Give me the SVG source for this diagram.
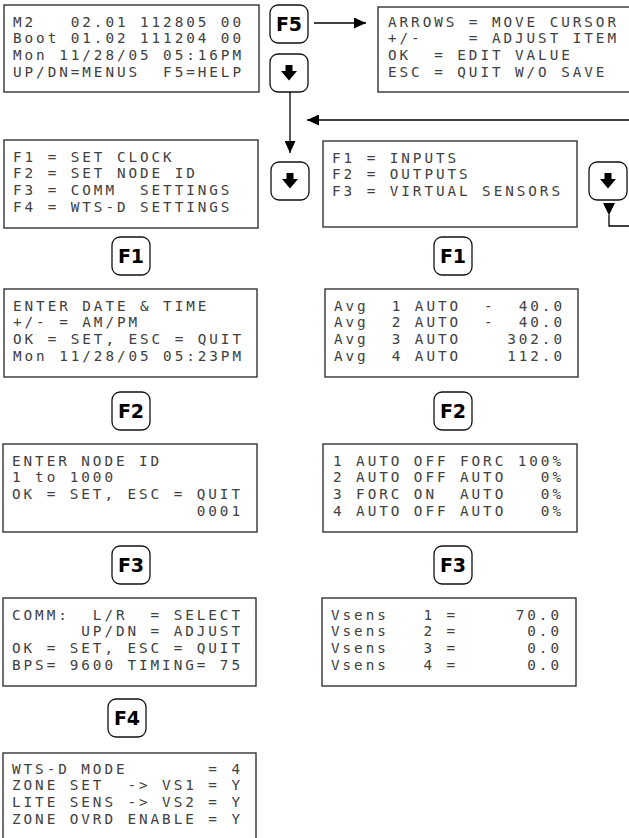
<svg xmlns="http://www.w3.org/2000/svg" xmlns:xlink="http://www.w3.org/1999/xlink" width="629" height="838" viewBox="0 0 629 838">
<style>
.scr{fill:#fff;stroke:#333;stroke-width:1.4}
.lcd{font-family:"DejaVu Sans Mono","Liberation Mono",monospace;font-size:14.3px;letter-spacing:2.94px;fill:#404040;white-space:pre}
.btn{fill:#fff;stroke:#111;stroke-width:1.3}
.key{font-family:"DejaVu Sans","Liberation Sans",sans-serif;font-weight:bold;font-size:19px;fill:#000;text-anchor:middle}
.con{fill:none;stroke:#000;stroke-width:1.3}
</style>
<defs>
<marker id="ah" markerUnits="userSpaceOnUse" markerWidth="12" markerHeight="11" refX="12" refY="5.5" orient="auto">
<path d="M0,0 L12,5.5 L0,11 z" fill="#000"/>
</marker>
<g id="dnicon"><path d="M-3.5,-8 h7 v6 h4.5 l-8,9.5 l-8,-9.5 h4.5 z" fill="#000"/></g>
</defs>
<rect width="629" height="838" fill="#fff"/>

<g id="connectors">
<line class="con" x1="314" y1="23" x2="366" y2="23" marker-end="url(#ah)"/>
<line class="con" x1="290" y1="92" x2="290" y2="153" marker-end="url(#ah)"/>
<line class="con" x1="629" y1="120" x2="307" y2="120" marker-end="url(#ah)"/>
<path class="con" d="M609,215 V226 H632" marker-start="url(#ah)"/>
<path d="M603,203 L615,203 L609,215 z" fill="#000"/>
</g>

<g id="screen-main">
<rect class="scr" x="4" y="5" width="255" height="87"/>
<text class="lcd" xml:space="preserve"><tspan x="13" y="26.5">M2   02.01 112805 00</tspan><tspan x="13" y="43.2">Boot 01.02 111204 00</tspan><tspan x="13" y="59.9">Mon 11/28/05 05:16PM</tspan><tspan x="13" y="76.6">UP/DN=MENUS  F5=HELP</tspan></text>
</g>

<g id="btn-f5">
<rect class="btn" x="270" y="5" width="38" height="38" rx="8"/>
<text class="key" x="289" y="31">F5</text>
</g>

<g id="screen-help">
<rect class="scr" x="378" y="7" width="270" height="85"/>
<text class="lcd" xml:space="preserve"><tspan x="388" y="26.5">ARROWS = MOVE CURSOR</tspan><tspan x="388" y="43.2">+/-    = ADJUST ITEM</tspan><tspan x="388" y="59.9">OK  = EDIT VALUE</tspan><tspan x="388" y="76.6">ESC = QUIT W/O SAVE</tspan></text>
</g>

<g id="btn-down-1">
<rect class="btn" x="270" y="54" width="38" height="38" rx="8"/>
<use xlink:href="#dnicon" x="289" y="73"/>
</g>

<g id="menu-setup">
<rect class="scr" x="4" y="140" width="254" height="88"/>
<text class="lcd" xml:space="preserve"><tspan x="13" y="161.5">F1 = SET CLOCK</tspan><tspan x="13" y="178.2">F2 = SET NODE ID</tspan><tspan x="13" y="194.9">F3 = COMM  SETTINGS</tspan><tspan x="13" y="211.6">F4 = WTS-D SETTINGS</tspan></text>
</g>

<g id="btn-down-2">
<rect class="btn" x="271" y="162" width="38" height="38" rx="8"/>
<use xlink:href="#dnicon" x="290" y="181"/>
</g>

<g id="menu-io">
<rect class="scr" x="323" y="141" width="254" height="86"/>
<text class="lcd" xml:space="preserve"><tspan x="332" y="162.5">F1 = INPUTS</tspan><tspan x="332" y="179.2">F2 = OUTPUTS</tspan><tspan x="332" y="195.9">F3 = VIRTUAL SENSORS</tspan></text>
</g>

<g id="btn-down-3">
<rect class="btn" x="589" y="162" width="38" height="38" rx="8"/>
<use xlink:href="#dnicon" x="608" y="181"/>
</g>

<g id="btn-f1-left">
<rect class="btn" x="112" y="237" width="38" height="38" rx="8"/>
<text class="key" x="131" y="263">F1</text>
</g>
<g id="btn-f1-right">
<rect class="btn" x="434" y="237" width="38" height="38" rx="8"/>
<text class="key" x="453" y="263">F1</text>
</g>

<g id="screen-clock">
<rect class="scr" x="4" y="289" width="253" height="88"/>
<text class="lcd" xml:space="preserve"><tspan x="13" y="310.5">ENTER DATE &amp; TIME</tspan><tspan x="13" y="327.2">+/- = AM/PM</tspan><tspan x="13" y="343.9">OK = SET, ESC = QUIT</tspan><tspan x="13" y="360.6">Mon 11/28/05 05:23PM</tspan></text>
</g>

<g id="screen-inputs">
<rect class="scr" x="325" y="289" width="253" height="88"/>
<text class="lcd" xml:space="preserve"><tspan x="334" y="310.5">Avg  1 AUTO  -  40.0</tspan><tspan x="334" y="327.2">Avg  2 AUTO  -  40.0</tspan><tspan x="334" y="343.9">Avg  3 AUTO    302.0</tspan><tspan x="334" y="360.6">Avg  4 AUTO    112.0</tspan></text>
</g>

<g id="btn-f2-left">
<rect class="btn" x="112" y="392" width="38" height="38" rx="8"/>
<text class="key" x="131" y="418">F2</text>
</g>
<g id="btn-f2-right">
<rect class="btn" x="434" y="392" width="38" height="38" rx="8"/>
<text class="key" x="453" y="418">F2</text>
</g>

<g id="screen-nodeid">
<rect class="scr" x="3" y="444" width="254" height="88"/>
<text class="lcd" xml:space="preserve"><tspan x="12" y="465.5">ENTER NODE ID</tspan><tspan x="12" y="482.2">1 to 1000</tspan><tspan x="12" y="498.9">OK = SET, ESC = QUIT</tspan><tspan x="12" y="515.6">                0001</tspan></text>
</g>

<g id="screen-outputs">
<rect class="scr" x="323" y="444" width="254" height="88"/>
<text class="lcd" xml:space="preserve"><tspan x="333" y="465.5">1 AUTO OFF FORC 100%</tspan><tspan x="333" y="482.2">2 AUTO OFF AUTO   0%</tspan><tspan x="333" y="498.9">3 FORC ON  AUTO   0%</tspan><tspan x="333" y="515.6">4 AUTO OFF AUTO   0%</tspan></text>
</g>

<g id="btn-f3-left">
<rect class="btn" x="112" y="546" width="38" height="38" rx="8"/>
<text class="key" x="131" y="572">F3</text>
</g>
<g id="btn-f3-right">
<rect class="btn" x="434" y="546" width="38" height="38" rx="8"/>
<text class="key" x="453" y="572">F3</text>
</g>

<g id="screen-comm">
<rect class="scr" x="3" y="598" width="253" height="88"/>
<text class="lcd" xml:space="preserve"><tspan x="12" y="619.5">COMM:  L/R  = SELECT</tspan><tspan x="12" y="636.2">      UP/DN = ADJUST</tspan><tspan x="12" y="652.9">OK = SET, ESC = QUIT</tspan><tspan x="12" y="669.6">BPS= 9600 TIMING= 75</tspan></text>
</g>

<g id="screen-vsens">
<rect class="scr" x="322" y="598" width="254" height="88"/>
<text class="lcd" xml:space="preserve"><tspan x="331" y="619.5">Vsens   1 =     70.0</tspan><tspan x="331" y="636.2">Vsens   2 =      0.0</tspan><tspan x="331" y="652.9">Vsens   3 =      0.0</tspan><tspan x="331" y="669.6">Vsens   4 =      0.0</tspan></text>
</g>

<g id="btn-f4-left">
<rect class="btn" x="108" y="699" width="38" height="38" rx="8"/>
<text class="key" x="127" y="725">F4</text>
</g>

<g id="screen-wtsd">
<rect class="scr" x="3" y="753" width="253" height="100"/>
<text class="lcd" xml:space="preserve"><tspan x="12" y="773.5">WTS-D MODE       = 4</tspan><tspan x="12" y="790.2">ZONE SET  -&gt; VS1 = Y</tspan><tspan x="12" y="806.9">LITE SENS -&gt; VS2 = Y</tspan><tspan x="12" y="823.6">ZONE OVRD ENABLE = Y</tspan></text>
</g>
</svg>
